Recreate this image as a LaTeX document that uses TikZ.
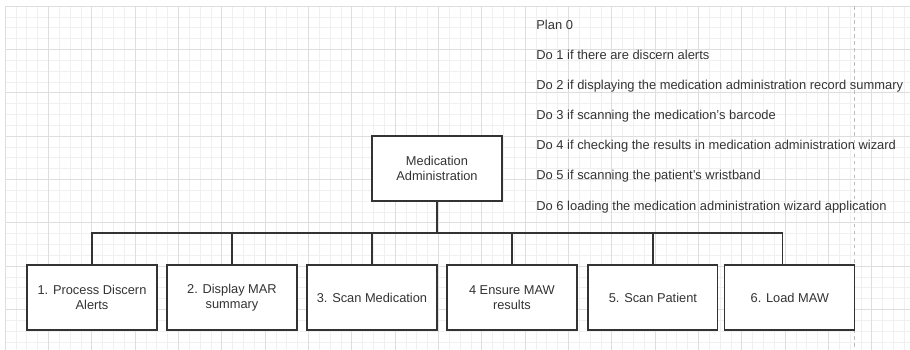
\documentclass[tikz,border=0pt]{standalone}
\usepackage{fontspec}
\setmainfont{Liberation Sans}
\usetikzlibrary{positioning}
\definecolor{inkc}{HTML}{333333}
\definecolor{gridmin}{HTML}{F0F0F0}
\definecolor{gridmaj}{HTML}{DEDEDE}
\definecolor{pagec}{HTML}{BDBDBD}
\tikzset{
  box/.style={draw=inkc,line width=0.7pt,fill=white,minimum width=2.6cm,minimum height=1.3cm,outer sep=0pt,align=center,inner sep=2pt,text=inkc,font=\fontsize{7.3}{8.3}\selectfont},
  link/.style={draw=inkc,line width=0.7pt},
  plan/.style={anchor=base west,inner sep=0pt,text=inkc,font=\fontsize{7.35}{8.3}\selectfont}
}

\begin{document}
\begin{tikzpicture}[x=0.02cm,y=-0.02cm]
\useasboundingbox (0,0) rectangle (910,350);
\fill[white] (0,0) rectangle (910,350);
% background grid
\foreach \i in {0,...,83} \draw[gridmin,line width=0.3pt] ({5+\i*10.833},6) -- ({5+\i*10.833},350);
\foreach \i in {0,...,31} \draw[gridmin,line width=0.3pt] (5,{6+\i*10.833}) -- (910,{6+\i*10.833});
\foreach \i in {0,...,20} \draw[gridmaj,line width=0.4pt] ({5+\i*43.33},6) -- ({5+\i*43.33},350);
\foreach \i in {0,...,7} \draw[gridmaj,line width=0.4pt] (5,{6+\i*43.33}) -- (910,{6+\i*43.33});
\draw[pagec,line width=0.4pt,dash pattern=on 2pt off 2pt] (854,6) -- (854,350);

% task tree
\node[box] (root) at (437,168.5) {Medication\\Administration};
\node[box] (b1) at (92,297.5) {1. Process Discern\\Alerts};
\node[box,right=0.2cm of b1] (b2) {2. Display MAR\\summary};
\node[box,right=0.2cm of b2] (b3) {3. Scan Medication};
\node[box,right=0.2cm of b3] (b4) {4 Ensure MAW\\results};
\node[box,right=0.22cm of b4] (b5) {5. Scan Patient};
\node[box,right=0.14cm of b5] (b6) {6. Load MAW};

\coordinate (bus) at (437,233);
\draw[link] (root.south) -- (bus);
\foreach \b in {b1,b2,b3,b4,b5} \draw[link] (bus) -| (\b.north);
\draw[link] (bus) -| ([xshift=-0.14cm]b6.north);

% plan text
\foreach \i/\txt in {0/Plan 0,
  1/Do 1 if there are discern alerts,
  2/Do 2 if displaying the medication administration record summary,
  3/Do 3 if scanning the medication's barcode,
  4/Do 4 if checking the results in medication administration wizard,
  5/Do 5 if scanning the patient's wristband,
  6/Do 6 loading the medication administration wizard application}
  \node[plan] (p\i) at (536,{29.5+\i*30.1}) {\txt};
\end{tikzpicture}
\end{document}
